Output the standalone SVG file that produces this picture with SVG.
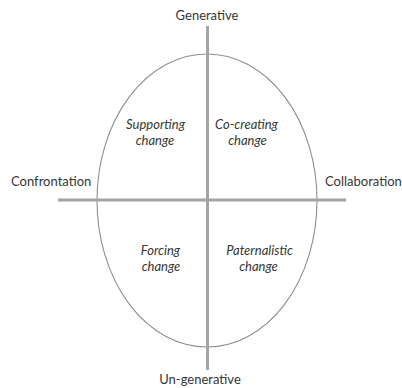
<svg xmlns="http://www.w3.org/2000/svg" width="402" height="388" viewBox="0 0 402 388">
  <style>
    .axis { stroke: #a4a4a8; stroke-width: 3; fill: none; }
    .oval { stroke: #8e8e8e; stroke-width: 1.1; fill: none; }
    .pole { font-family: Lato, "Open Sans", sans-serif; font-size: 13px; fill: #363636; }
    .quad { font-family: Lato, "Open Sans", sans-serif; font-size: 13px; font-style: italic; fill: #363636; text-anchor: middle; }
  </style>
  <rect width="402" height="388" fill="#ffffff"/>

  <!-- axes and enclosing oval -->
  <g id="connectors">
    <ellipse class="oval" cx="207" cy="200.5" rx="110" ry="146.5"/>
    <line class="axis" x1="58" y1="200" x2="346" y2="200"/>
    <line class="axis" x1="207.5" y1="26" x2="207.5" y2="370"/>
  </g>

  <!-- pole labels -->
  <g id="generative"><text class="pole" x="207" y="20" text-anchor="middle">Generative</text></g>
  <g id="un-generative"><text class="pole" x="200" y="384" text-anchor="middle">Un-generative</text></g>
  <g id="confrontation"><text class="pole" x="11" y="186">Confrontation</text></g>
  <g id="collaboration"><text class="pole" x="325" y="186">Collaboration</text></g>

  <!-- quadrant labels -->
  <g id="supporting">
    <text class="quad" x="155.5" y="129">Supporting</text>
    <text class="quad" x="155" y="145">change</text>
  </g>
  <g id="co-creating">
    <text class="quad" x="246.5" y="129">Co-creating</text>
    <text class="quad" x="247.5" y="145">change</text>
  </g>
  <g id="forcing">
    <text class="quad" x="160.5" y="255">Forcing</text>
    <text class="quad" x="161" y="271">change</text>
  </g>
  <g id="paternalistic">
    <text class="quad" x="259.5" y="255">Paternalistic</text>
    <text class="quad" x="258.5" y="271">change</text>
  </g>
</svg>
